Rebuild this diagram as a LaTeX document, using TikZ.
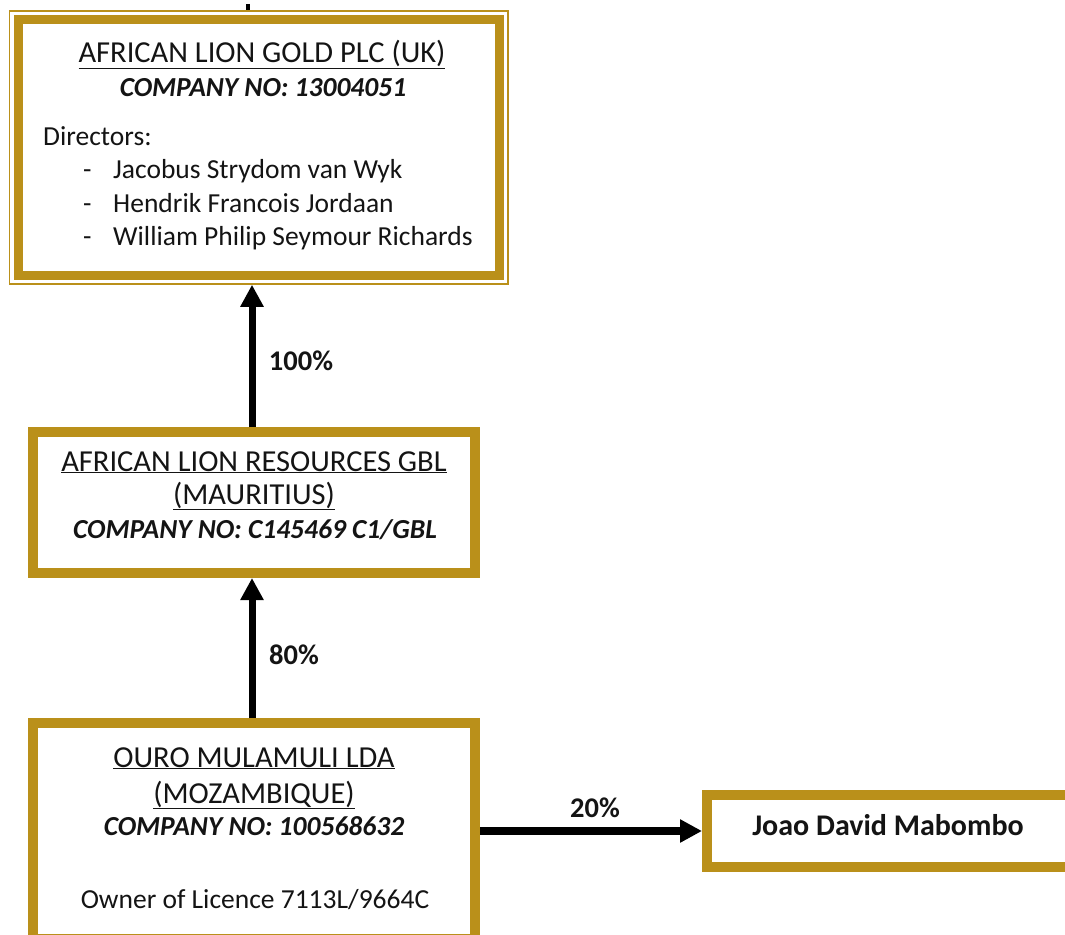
\documentclass[tikz,border=0pt]{standalone}
\usepackage{fontspec}
\setmainfont{Carlito}
\usetikzlibrary{arrows.meta}
\definecolor{gold}{RGB}{186,144,26}
\definecolor{ink}{RGB}{20,20,20}
\tikzset{
  goldbox/.style={draw=gold, line width=10pt, fill=white, inner sep=0pt},
  txt/.style={inner sep=0pt, text=ink, font=\fontsize{27.5}{33}\selectfont},
  ctxt/.style={txt, anchor=base},
  ltxt/.style={txt, anchor=base west},
  ttl/.style={ctxt, font=\fontsize{30.5}{36}\selectfont},
  lbl/.style={ctxt, font=\fontsize{28.5}{34}\selectfont\bfseries},
  arr/.style={line width=7pt, draw=black, -{Triangle[width=22pt,length=22pt]}},
}
\newcommand{\myul}[1]{\underline{#1}}
\begin{document}
\begin{tikzpicture}[x=1pt,y=-1pt]
\useasboundingbox (0,0) rectangle (1065,934);
\clip (0,0) rectangle (1065,934);
% boxes
\node[draw=gold, line width=1.5pt, fill=white, inner sep=0pt, minimum width=498.5pt, minimum height=273pt] (top) at (258.75,147.5) {};
\draw[gold, line width=9pt] ([shift={(9.5pt,-9.5pt)}]top.north west) rectangle ([shift={(-9.5pt,9.5pt)}]top.south east);
\node[goldbox, minimum width=442pt, minimum height=141pt] (mid) at (254,502.5) {};
\node[goldbox, minimum width=442pt, minimum height=216pt] (bot) at (254,831) {};
\node[goldbox, minimum width=400pt, minimum height=72.5pt] (joao) at (907,831) {};
% stub above the top box
\coordinate (stub) at (248,4);
\draw[line width=3.5pt] (stub) -- (stub |- top.north);
% connectors
\draw[arr] ([xshift=-2pt]mid.north) -- ([xshift=-6.75pt]top.south);
\draw[arr] ([xshift=-2pt]bot.north) -- ([xshift=-2pt]mid.south);
\draw[arr, line width=8pt] (bot.east) -- (joao.west);
% top box text
\node[ttl] (t1) at (262,63) {\myul{AFRICAN LION GOLD PLC (UK)}};
\node[ctxt] (t2) at (263,96) {\bfseries\itshape COMPANY NO: 13004051};
\node[ltxt] (d0) at (43,145) {Directors:};
\node[ltxt] (d1a) at (83,178) {-};
\node[ltxt] (d1) at (113,178) {Jacobus Strydom van Wyk};
\node[ltxt] (d2a) at (83,212) {-};
\node[ltxt] (d2) at (113,212) {Hendrik Francois Jordaan};
\node[ltxt] (d3a) at (83,245) {-};
\node[ltxt] (d3) at (113,245) {William Philip Seymour Richards};
% middle box text
\node[ttl] (m1) at (254,471) {\myul{AFRICAN LION RESOURCES GBL}};
\node[ttl] (m2) at (254,504) {\myul{(MAURITIUS)}};
\node[ctxt] (m3) at (255,538) {\bfseries\itshape COMPANY NO: C145469 C1/GBL};
% bottom box text
\node[ttl] (b1) at (254,767) {\myul{OURO MULAMULI LDA}};
\node[ttl] (b2) at (254,803) {\myul{(MOZAMBIQUE)}};
\node[ctxt] (b3) at (254,835) {\bfseries\itshape COMPANY NO: 100568632};
\node[ctxt] (b4) at (255,908) {Owner of Licence 7113L/9664C};
% labels
\node[lbl] (l1) at (301,370) {100\%};
\node[lbl] (l2) at (294,664) {80\%};
\node[lbl] (l3) at (595,817) {20\%};
\node[ctxt, font=\fontsize{30}{36}\selectfont\bfseries] (j1) at (888,835) {Joao David Mabombo};
\end{tikzpicture}
\end{document}
